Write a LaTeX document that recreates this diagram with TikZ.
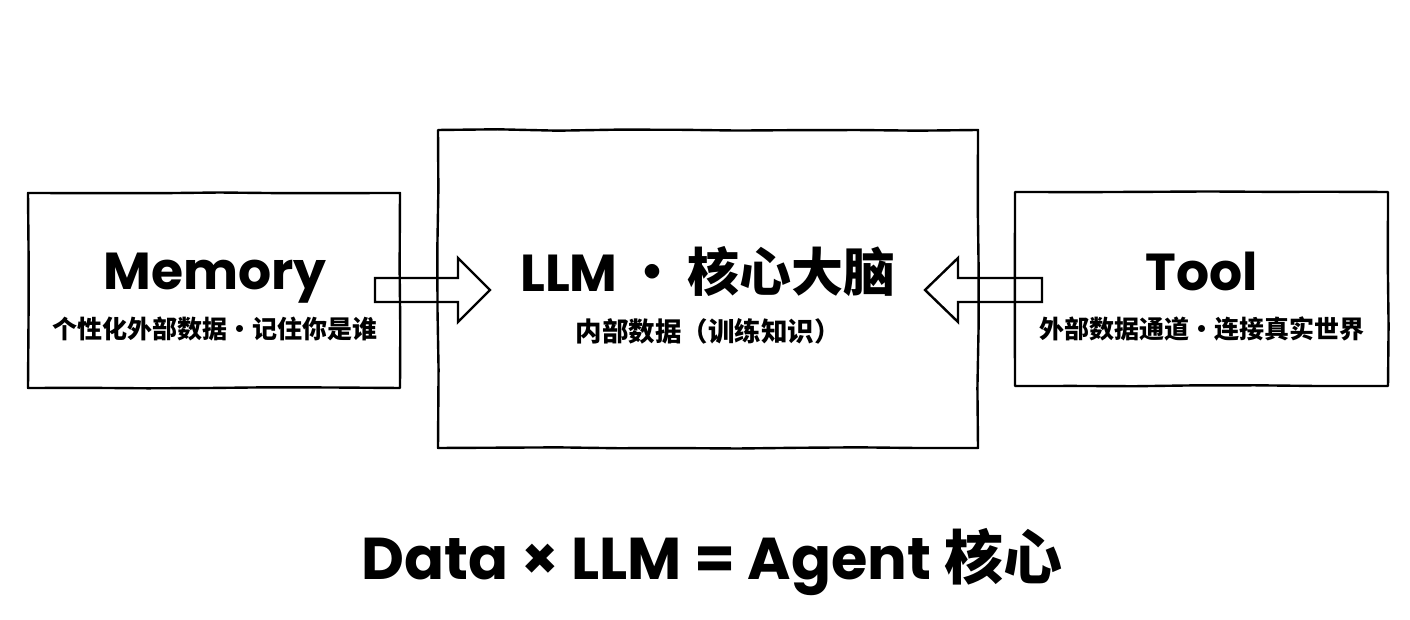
\documentclass[tikz,border=0pt]{standalone}
\usepackage{fontspec}
\setmainfont{Poppins}
\newfontfamily\cjk{Noto Sans CJK SC}
\usetikzlibrary{decorations.pathmorphing}

\tikzset{
  sketch/.style={draw, line width=2.4pt, line join=round,
    decorate, decoration={random steps, segment length=60pt, amplitude=0.7pt}},
  box/.style={sketch, rectangle, inner sep=0pt},
  fatarrow/.style={draw, line width=2.4pt, line join=miter},
  bigtitle/.style={font=\fontsize{52}{56}\selectfont\bfseries, inner sep=0pt, anchor=base},
  subtitle/.style={font=\cjk\fontsize{25}{30}\selectfont\bfseries, inner sep=0pt},
}

\begin{document}
\begin{tikzpicture}[x=1pt, y=1pt]
    \pgfmathsetseed{7}
    \useasboundingbox (0,0) rectangle (1410,620);
    % the three blocks
    \node(mem)[box, minimum width=372pt, minimum height=195pt] at (214,329.5) {};
    \node(llm)[box, minimum width=540pt, minimum height=318pt] at (708,331) {};
    \node(tool)[box, minimum width=373pt, minimum height=194pt] at (1201.5,331) {};
    % texts
    \node(memT)[bigtitle] at (215,330) {Memory};
    \node(memS)[subtitle] at (215,291) {个性化外部数据·记住你是谁};
    \node(llmT)[bigtitle] at (708,328) {LLM\hspace{9pt}{\cjk ·\hspace{9pt}核心大脑}};
    \node(llmS)[subtitle, font=\cjk\fontsize{26.5}{30}\selectfont\bfseries] at (708,289) {内部数据（训练知识）};
    \node(toolT)[bigtitle] at (1202,329) {Tool};
    \node(toolS)[subtitle] at (1202,291) {外部数据通道·连接真实世界};
    % arrows into the core
    \coordinate(memTail) at (375,330);
    \coordinate(toolTail) at (1042,330);
    \draw[fatarrow] (memTail) ++(0,-12) -- ++(83,0) -- ++(0,-20) -- ++(32,32)
        -- ++(-32,32) -- ++(0,-20) -- ++(-83,0) -- cycle;
    \draw[fatarrow] (toolTail) ++(0,-12) -- ++(-84,0) -- ++(0,-20) -- ++(-33,32)
        -- ++(33,32) -- ++(0,-20) -- ++(84,0) -- cycle;
    % formula
    \node(eq)[bigtitle, font=\fontsize{59}{63}\selectfont\bfseries] at (712,40) {Data × LLM = Agent {\cjk 核心}};
\end{tikzpicture}
\end{document}
